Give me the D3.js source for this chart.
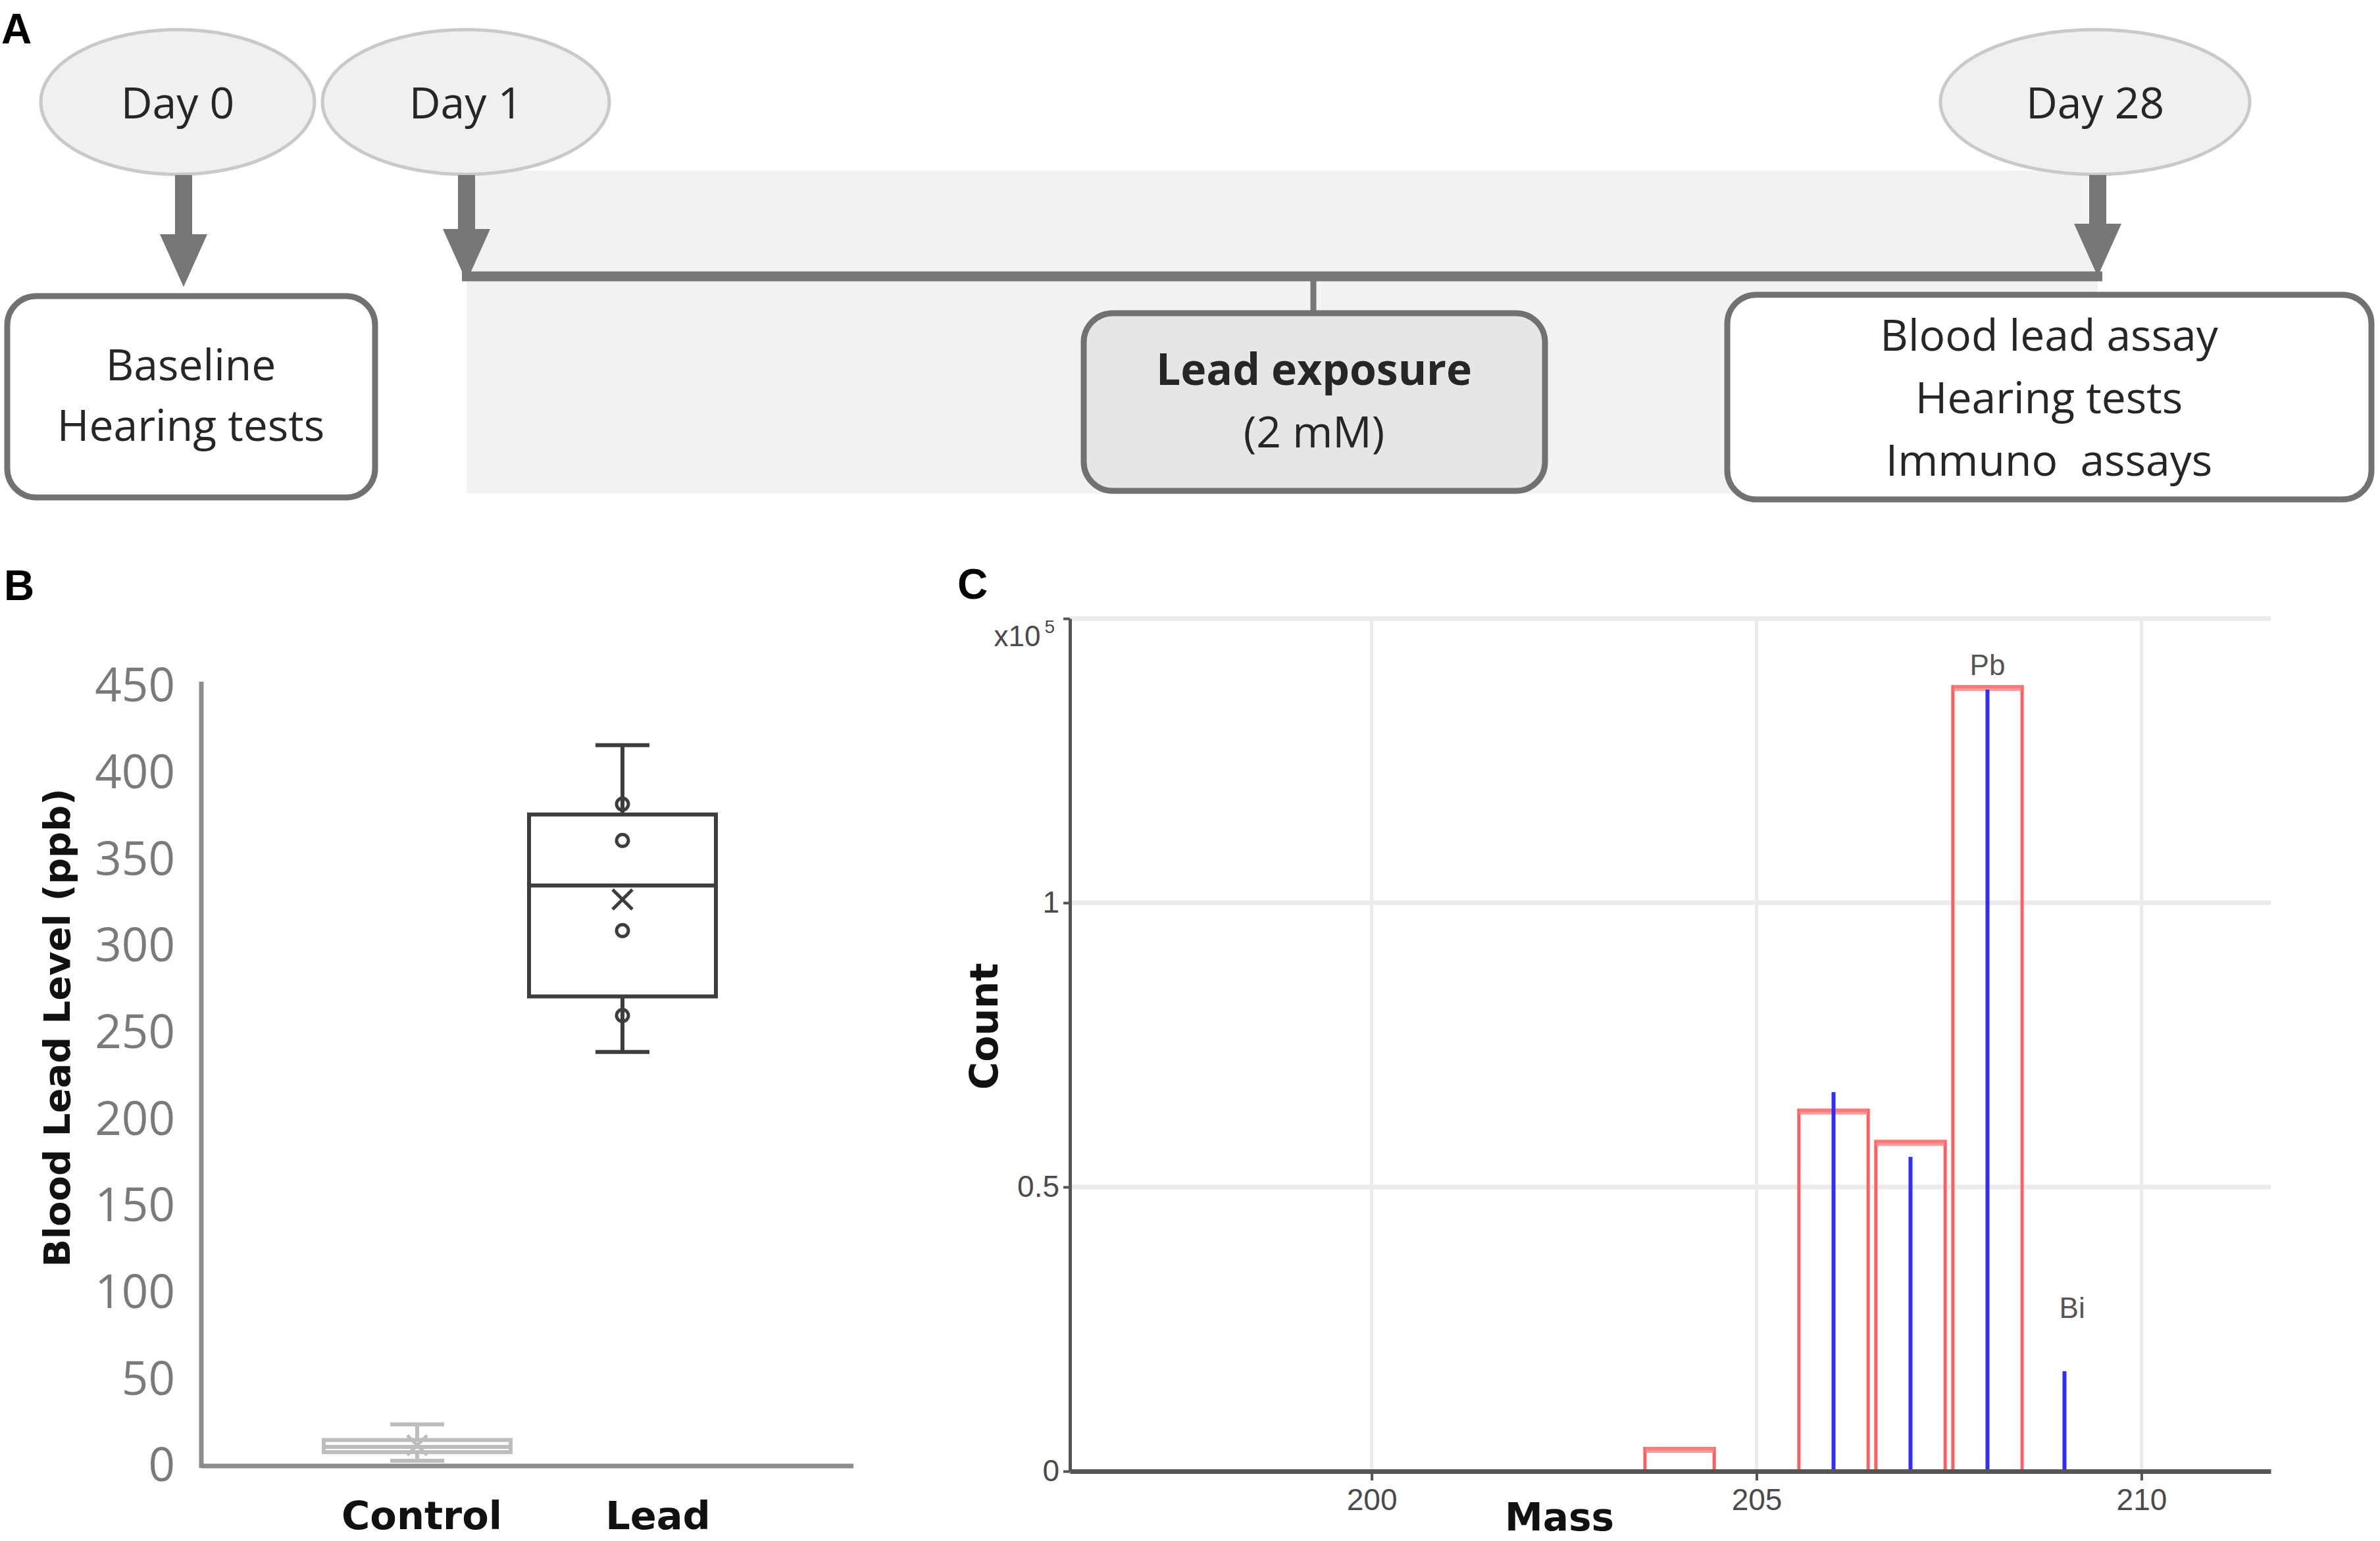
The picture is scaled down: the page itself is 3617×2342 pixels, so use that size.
<!DOCTYPE html>
<html>
<head>
<meta charset="utf-8">
<script src="https://cdn.jsdelivr.net/npm/d3@7"></script>
<style>
  body { margin: 0; background: #fff; }
  text { font-family: "Open Sans", sans-serif; }
</style>
</head>
<body>
<div id="fig"></div>
<script>
// ---- panel A: timeline texts
const dayLabels = ["Day 0", "Day 1", "Day 28"];
const baselineLines = ["Baseline", "Hearing tests"];
const exposureLines = ["Lead exposure", "(2 mM)"];
const endLines = ["Blood lead assay", "Hearing tests", "Immuno  assays"];

// ---- panel B: blood lead box plot (ppb)
const groups = ["Control", "Lead"];
const whiskerLow = [3, 239];
const q1 = [8, 271];
const median = [11, 335];
const q3 = [15, 376];
const whiskerHigh = [24, 416];
const means = [12, 327];
const leadPoints = [382, 361, 309, 260];
const bTicks = [0, 50, 100, 150, 200, 250, 300, 350, 400, 450];

// ---- panel C: mass spectrum (x10^5 counts)
const redMass = [204, 206, 207, 208];
const redCount = [0.04, 0.635, 0.58, 1.38];
const blueMass = [206, 207, 208, 209];
const blueCount = [0.667, 0.553, 1.375, 0.176];
const peakNames = ["Pb", "Bi"];
const peakMass = [208, 209.1];
const peakCount = [1.40, 0.27];
const cXTicks = [200, 205, 210];
const cYTicks = [0, 0.5, 1];

const W = 3617, H = 2342;
const svg = d3.select("#fig").append("svg")
    .attr("width", W).attr("height", H)
    .style("display", "block");

svg.append("rect").attr("width", W).attr("height", H).attr("fill", "#fff");

// panel letters
const letters = [["A", 2, 66], ["B", 6, 912], ["C", 1455, 910]];
svg.selectAll("text.letter").data(letters).join("text")
    .attr("class", "letter")
    .attr("x", d => d[1]).attr("y", d => d[2])
    .style("font-family", "Liberation Sans, Arial, sans-serif")
    .style("font-weight", "bold").style("font-size", "64px")
    .text(d => d[0]);

// ================= panel A =================
let gA = svg.append("g");
const lineCol = "#777777", textCol = "#262626";

// grey exposure band
gA.append("rect").attr("x", 709).attr("y", 259).attr("width", 3188 - 709).attr("height", 491)
    .attr("fill", "#f2f2f2");

// day bubbles
const dayX = [270, 708, 3184], dayRx = [208, 218, 235];
gA.selectAll("ellipse").data(dayLabels).join("ellipse")
    .attr("cx", (d, i) => dayX[i]).attr("cy", 155)
    .attr("rx", (d, i) => dayRx[i]).attr("ry", 110)
    .attr("fill", "#f0f0f0").attr("stroke", "#c9c9c9").attr("stroke-width", 5);
gA.selectAll("text.day").data(dayLabels).join("text")
    .attr("class", "day")
    .attr("x", (d, i) => dayX[i]).attr("y", 180)
    .attr("text-anchor", "middle")
    .style("font-size", "66px").attr("fill", textCol)
    .text(d => d);

function arrow(x, y0, y1) {
    let sw = 13, hw = 36, hl = 80;
    let p = d3.path();
    p.moveTo(x - sw, y0); p.lineTo(x + sw, y0); p.lineTo(x + sw, y1 - hl);
    p.lineTo(x + hw, y1 - hl); p.lineTo(x, y1); p.lineTo(x - hw, y1 - hl);
    p.lineTo(x - sw, y1 - hl); p.closePath();
    gA.append("path").attr("d", p.toString()).attr("fill", lineCol);
}
arrow(279, 266, 436);
arrow(709, 266, 428);
arrow(3188, 266, 420);

// timeline line + connector
gA.append("line").attr("x1", 702).attr("x2", 3195).attr("y1", 420).attr("y2", 420)
    .attr("stroke", lineCol).attr("stroke-width", 15);
gA.append("line").attr("x1", 1996).attr("x2", 1996).attr("y1", 420).attr("y2", 480)
    .attr("stroke", lineCol).attr("stroke-width", 9);

// boxes
const boxes = [
    {x: 11, y: 450, w: 559, h: 306, fill: "#fff", lines: baselineLines, cx: 290, y0: 578, dy: 92, bold: false},
    {x: 1647, y: 476, w: 701, h: 270, fill: "#e6e6e6", lines: exposureLines, cx: 1997, y0: 585, dy: 95, bold: true},
    {x: 2625, y: 448, w: 979, h: 311, fill: "#fff", lines: endLines, cx: 3114, y0: 533, dy: 95, bold: false}
];
boxes.forEach(b => {
    gA.append("rect").attr("x", b.x).attr("y", b.y).attr("width", b.w).attr("height", b.h)
        .attr("rx", 44).attr("fill", b.fill).attr("stroke", "#717171").attr("stroke-width", 9);
    b.lines.forEach((t, i) => {
        gA.append("text").attr("x", b.cx).attr("y", b.y0 + i * b.dy)
            .attr("text-anchor", "middle").attr("fill", textCol)
            .style("font-size", "66px")
            .style("font-weight", (b.bold && i == 0) ? "bold" : "normal")
            .style("white-space", "pre")
            .text(t);
    });
});

// ================= panel B =================
let gB = svg.append("g");
let yB = d3.scaleLinear().domain([0, 450]).range([2228, 1043]);
let xB = d3.scaleBand().domain(groups).range([478, 1102]);
const axisX0 = 306, axisX1 = 1297;

gB.append("g").attr("transform", "translate(" + axisX0 + ",0)")
    .call(d3.axisLeft(yB).tickValues(bTicks).tickSize(0).tickPadding(40))
    .call(g => g.select(".domain").remove())
    .selectAll("text")
    .style("font-family", "Open Sans, sans-serif")
    .style("font-size", "71px").attr("fill", "#7a7a7a");

gB.append("line").attr("x1", axisX0).attr("x2", axisX0).attr("y1", 1036).attr("y2", yB(0) + 3)
    .attr("stroke", "#8c8c8c").attr("stroke-width", 7);
gB.append("line").attr("x1", axisX0).attr("x2", axisX1).attr("y1", yB(0)).attr("y2", yB(0))
    .attr("stroke", "#8c8c8c").attr("stroke-width", 7);

const boxCol = ["#bdbdbd", "#3d3d3d"];
const boxW = 284, capW = 82;
groups.forEach((g, i) => {
    let cx = xB(g) + xB.bandwidth() / 2;
    let col = boxCol[i];
    let grp = gB.append("g").attr("stroke", col).attr("stroke-width", 6).attr("fill", "none");
    grp.append("line").attr("x1", cx).attr("x2", cx).attr("y1", yB(whiskerHigh[i])).attr("y2", yB(q3[i]));
    grp.append("line").attr("x1", cx).attr("x2", cx).attr("y1", yB(q1[i])).attr("y2", yB(whiskerLow[i]));
    grp.append("line").attr("x1", cx - capW / 2).attr("x2", cx + capW / 2)
        .attr("y1", yB(whiskerHigh[i])).attr("y2", yB(whiskerHigh[i]));
    grp.append("line").attr("x1", cx - capW / 2).attr("x2", cx + capW / 2)
        .attr("y1", yB(whiskerLow[i])).attr("y2", yB(whiskerLow[i]));
    grp.append("rect").attr("x", cx - boxW / 2).attr("width", boxW)
        .attr("y", yB(q3[i])).attr("height", yB(q1[i]) - yB(q3[i]));
    grp.append("line").attr("x1", cx - boxW / 2).attr("x2", cx + boxW / 2)
        .attr("y1", yB(median[i])).attr("y2", yB(median[i]));
    // mean cross
    let m = yB(means[i]), s = 15;
    grp.append("path").attr("stroke-width", 5)
        .attr("d", "M" + (cx - s) + "," + (m - s) + "L" + (cx + s) + "," + (m + s) +
                   "M" + (cx + s) + "," + (m - s) + "L" + (cx - s) + "," + (m + s));
});

let leadX = xB("Lead") + xB.bandwidth() / 2;
gB.selectAll("circle.pt").data(leadPoints).join("circle")
    .attr("class", "pt")
    .attr("cx", leadX).attr("cy", d => yB(d)).attr("r", 9)
    .attr("fill", "none").attr("stroke", "#3d3d3d").attr("stroke-width", 5);

const labelShift = [7, 54];
gB.selectAll("text.cat").data(groups).join("text")
    .attr("class", "cat")
    .attr("x", (d, i) => xB(d) + xB.bandwidth() / 2 + labelShift[i]).attr("y", 2324)
    .attr("text-anchor", "middle")
    .style("font-family", "DejaVu Sans, sans-serif").style("font-weight", "bold")
    .style("font-size", "59px").attr("fill", "#111")
    .text(d => d);

gB.append("text")
    .attr("transform", "translate(106,1562) rotate(-90)")
    .attr("text-anchor", "middle")
    .style("font-family", "DejaVu Sans, sans-serif").style("font-weight", "bold")
    .style("font-size", "56px").attr("fill", "#111")
    .text("Blood Lead Level (ppb)");

// ================= panel C =================
let gC = svg.append("g");
let xC = d3.scaleLinear().domain([196.08, 211.68]).range([1626, 3451]);
let yC = d3.scaleLinear().domain([0, 1.5]).range([2236, 940]);

// grid
gC.selectAll("line.vg").data(cXTicks).join("line")
    .attr("class", "vg")
    .attr("x1", d => xC(d)).attr("x2", d => xC(d)).attr("y1", yC(1.5)).attr("y2", yC(0))
    .attr("stroke", "#ebebeb").attr("stroke-width", 5);
gC.selectAll("line.hg").data(cYTicks.concat([1.5])).join("line")
    .attr("class", "hg")
    .attr("x1", xC.range()[0]).attr("x2", xC.range()[1]).attr("y1", d => yC(d)).attr("y2", d => yC(d))
    .attr("stroke", "#ebebeb").attr("stroke-width", 7);

// red bins
const binW = 0.9;
gC.selectAll("rect.bin").data(redMass).join("rect")
    .attr("class", "bin")
    .attr("x", d => xC(d - binW / 2)).attr("width", xC(binW) - xC(0))
    .attr("y", (d, i) => yC(redCount[i])).attr("height", (d, i) => yC(0) - yC(redCount[i]))
    .attr("fill", "none").attr("stroke", "#ff5f5f").attr("stroke-width", 5);
gC.selectAll("line.bintop").data(redMass).join("line")
    .attr("class", "bintop")
    .attr("x1", d => xC(d - binW / 2)).attr("x2", d => xC(d + binW / 2))
    .attr("y1", (d, i) => yC(redCount[i]) + 2).attr("y2", (d, i) => yC(redCount[i]) + 2)
    .attr("stroke", "#ff8080").attr("stroke-width", 9).attr("opacity", 0.8);

// blue stems
gC.selectAll("line.stem").data(blueMass).join("line")
    .attr("class", "stem")
    .attr("x1", d => xC(d)).attr("x2", d => xC(d))
    .attr("y1", (d, i) => yC(blueCount[i])).attr("y2", yC(0))
    .attr("stroke", "#2e2eff").attr("stroke-width", 6);

// axes
gC.append("g").attr("transform", "translate(0," + yC(0) + ")")
    .call(d3.axisBottom(xC).tickValues(cXTicks).tickSize(14).tickSizeOuter(0).tickPadding(12))
    .call(g => g.select(".domain").attr("stroke", "#555").attr("stroke-width", 7))
    .call(g => g.selectAll(".tick line").attr("stroke", "#555").attr("stroke-width", 4))
    .selectAll("text")
    .style("font-family", "Liberation Sans Narrow, Liberation Sans, sans-serif")
    .style("font-size", "46px").attr("fill", "#4a4a4a");

gC.append("g").attr("transform", "translate(" + xC.range()[0] + ",0)")
    .call(d3.axisLeft(yC).tickValues(cYTicks.concat([1.5])).tickSize(10).tickSizeOuter(0).tickPadding(6)
        .tickFormat(d => d == 1.5 ? "" : d3.format("")(d)))
    .call(g => g.select(".domain").attr("stroke", "#555").attr("stroke-width", 5))
    .call(g => g.selectAll(".tick line").attr("stroke", "#555").attr("stroke-width", 4))
    .selectAll("text")
    .style("font-family", "Liberation Sans Narrow, Liberation Sans, sans-serif")
    .style("font-size", "46px").attr("fill", "#4a4a4a");

let expo = gC.append("text").attr("x", 1603).attr("y", yC(1.5) + 42).attr("text-anchor", "end")
    .style("font-family", "Liberation Sans Narrow, Liberation Sans, sans-serif")
    .style("font-size", "44px").attr("fill", "#4a4a4a");
expo.append("tspan").text("x10");
expo.append("tspan").attr("dy", -20).attr("dx", 6).style("font-size", "28px").text("5");

// peak labels
gC.selectAll("text.peak").data(peakNames).join("text")
    .attr("class", "peak")
    .attr("x", (d, i) => xC(peakMass[i])).attr("y", (d, i) => yC(peakCount[i]))
    .attr("text-anchor", "middle")
    .style("font-family", "Liberation Sans Narrow, Liberation Sans, sans-serif")
    .style("font-size", "44px").attr("fill", "#555")
    .text(d => d);

gC.append("text")
    .attr("transform", "translate(1516,1560) rotate(-90)")
    .attr("text-anchor", "middle")
    .style("font-family", "DejaVu Sans, sans-serif").style("font-weight", "bold")
    .style("font-size", "58px").attr("fill", "#111")
    .text("Count");

gC.append("text").attr("x", 2370).attr("y", 2326).attr("text-anchor", "middle")
    .style("font-family", "DejaVu Sans, sans-serif").style("font-weight", "bold")
    .style("font-size", "58px").attr("fill", "#111")
    .text("Mass");
</script>
</body>
</html>
